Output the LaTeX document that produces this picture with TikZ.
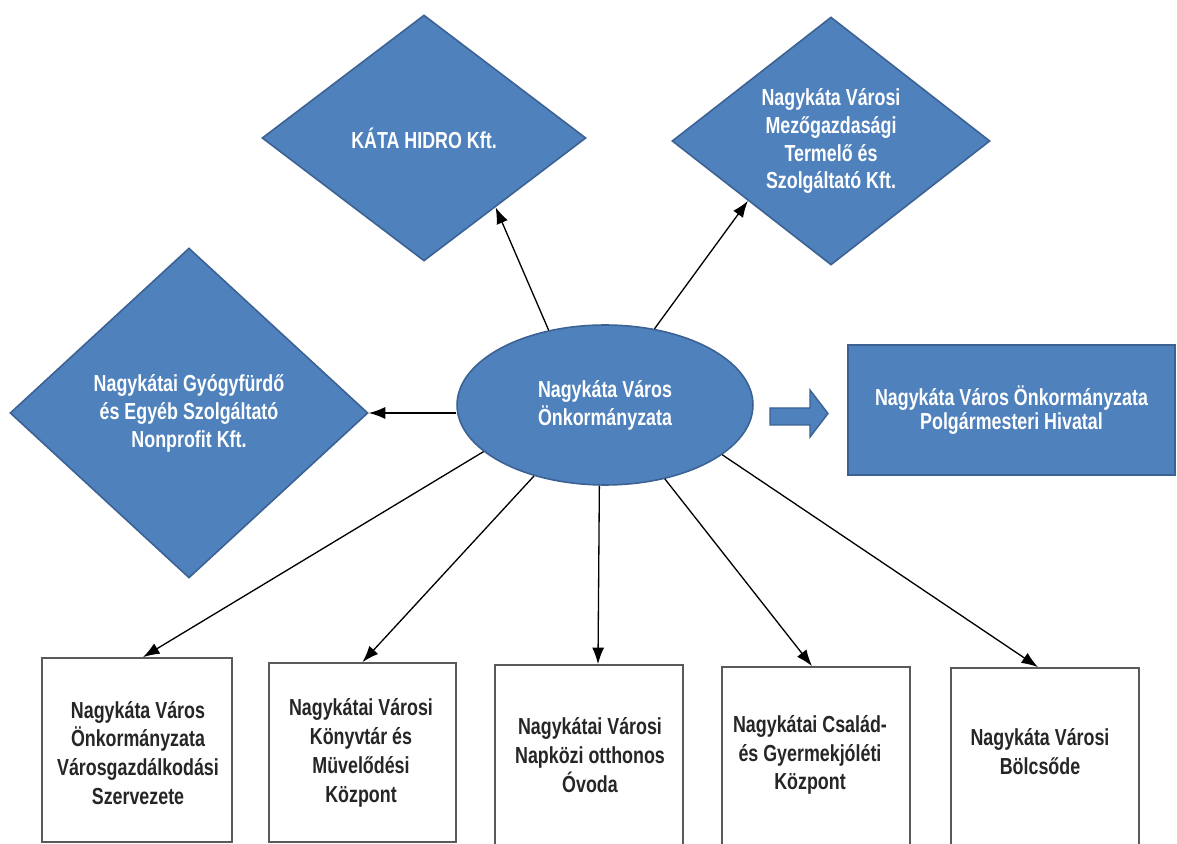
\documentclass[tikz,border=0pt]{standalone}
\usepackage{fontspec}
\setmainfont{Liberation Sans}
\newfontfamily\labfont{Liberation Sans}[FakeStretch=0.77]
\usetikzlibrary{shapes.geometric,arrows.meta,calc}
\definecolor{shapeblue}{HTML}{4F81BD}
\definecolor{shapeedge}{HTML}{3B6292}
\definecolor{boxedge}{HTML}{5A5A5A}
\begin{document}
\begin{tikzpicture}[x=0.02cm,y=-0.02cm,
  lab/.style={font=\labfont\bfseries\fontsize{13.2pt}{15.9pt}\selectfont, align=center, inner sep=0pt},
  boxlab/.style={font=\labfont\bfseries\fontsize{13.2pt}{16.4pt}\selectfont, align=center, inner sep=0pt, text=black!85},
  bluediamond/.style={diamond, draw=shapeedge, fill=shapeblue, line width=0.9pt, inner sep=0pt, text=white, lab},
  blueshape/.style={draw=shapeedge, fill=shapeblue, line width=0.9pt, inner sep=0pt, text=white, lab},
  whitebox/.style={rectangle, draw=boxedge, fill=white, line width=1pt, inner sep=0pt},
  arr/.style={-{Latex[length=3.3mm,width=2.4mm]}, line width=0.75pt, black}]
\useasboundingbox (0,0) rectangle (1177,844);
\clip (0,0) rectangle (1177,844);
\fill[white] (0,0) rectangle (1177,844);

% diamonds
\node[bluediamond, minimum width=7.16cm, minimum height=6.6cm] (D1) at (189,413)
  {Nagykátai Gyógyfürdő\\és Egyéb Szolgáltató\\Nonprofit Kft.};
\node[bluediamond, minimum width=6.48cm, minimum height=4.92cm] (D2) at (424,138)
  {KÁTA HIDRO Kft.};
\node[bluediamond, minimum width=6.36cm, minimum height=4.96cm] (D3) at (831,141)
  {Nagykáta Városi\\Mezőgazdasági\\Termelő és\\Szolgáltató Kft.};

% centre ellipse
\node[blueshape, ellipse, minimum width=5.92cm, minimum height=3.2cm] (ell) at (605,405)
  {Nagykáta Város\\Önkormányzata};

% right rectangle
\node[blueshape, rectangle, minimum width=6.54cm, minimum height=2.6cm,
  font=\labfont\bfseries\fontsize{13.2pt}{13.6pt}\selectfont] (R) at (1011.5,410)
  {Nagykáta Város Önkormányzata\\Polgármesteri Hivatal};

% block arrow
\draw[fill=shapeblue, draw=shapeedge, line width=0.8pt]
  (770,408) -- (810,408) -- (810,390) -- (828,413.5) -- (810,437) -- (810,425) -- (770,425) -- cycle;

% bottom boxes
\node[whitebox, minimum width=3.8cm, minimum height=3.68cm] (B1) at (137,750) {};
\node[whitebox, minimum width=3.74cm, minimum height=3.58cm] (B2) at (362.5,752.5) {};
\node[whitebox, minimum width=3.76cm, minimum height=4.1cm] (B3) at (589,767.5) {};
\node[whitebox, minimum width=3.76cm, minimum height=4.06cm] (B4) at (816,768.5) {};
\node[whitebox, minimum width=3.76cm, minimum height=4.04cm] (B5) at (1045,769) {};

\node[boxlab] (T1) at (138,753) {Nagykáta Város\\Önkormányzata\\Városgazdálkodási\\Szervezete};
\node[boxlab] (T2) at (361,753) {Nagykátai Városi\\Könyvtár és\\Müvelődési\\Központ};
\node[boxlab] (T3) at (590,755) {Nagykátai Városi\\Napközi otthonos\\Óvoda};
\node[boxlab] (T4) at (810,755) {Nagykátai Család-\\és Gyermekjóléti\\Központ};
\node[boxlab] (T5) at (1040,752) {Nagykáta Városi\\Bölcsőde};

% connectors
\draw[arr] (ell.west |- D1.east) -- (D1.east);
\draw[arr] (ell.127.6) -- ($(D2.south)!0.44!(D2.east)$);
\draw[arr] (ell.57.7) -- ($(D3.west)!0.48!(D3.south)$);
\draw[arr] (ell.201.1) -- ($(B1.north)+(6,0)$);
\draw[arr] (ell.225.8) -- (B2.north);
\draw[arr] (ell.266) -- ($(B3.north)+(9,0)$);
\draw[arr] (ell.309.6) -- ($(B4.north)+(-4,0)$);
\draw[arr] (ell.337.9) -- ($(B5.north)+(-7,0)$);
\end{tikzpicture}
\end{document}
